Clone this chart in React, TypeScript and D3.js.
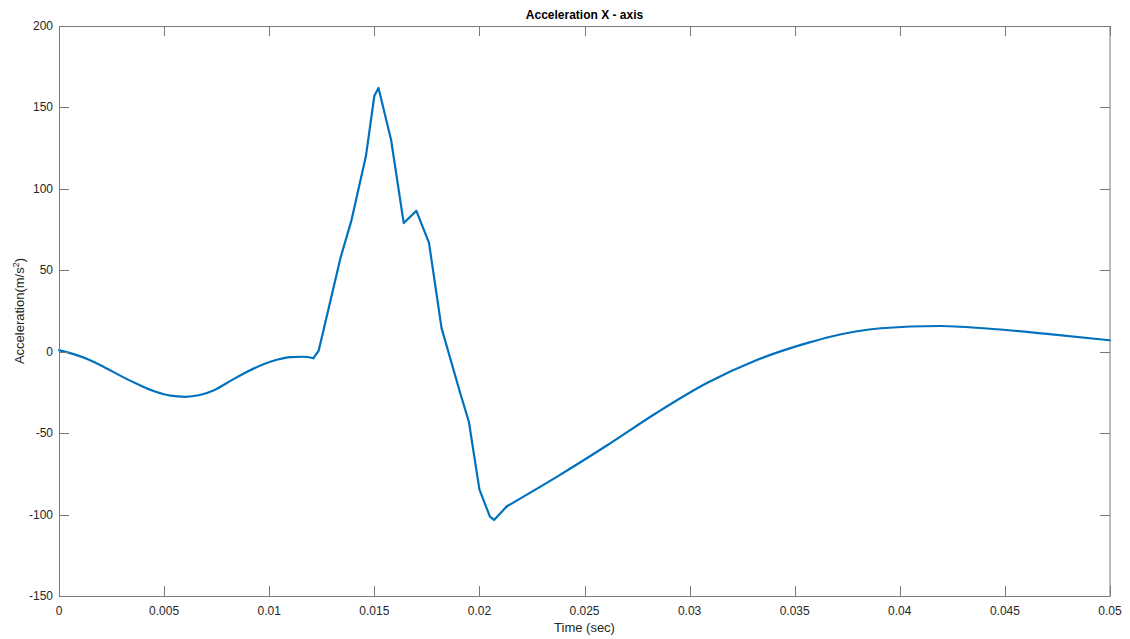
import React from "react";
import * as d3 from "d3";

// Sampled acceleration along the X axis
const timeSec = [
  0, 0.0007, 0.0014, 0.0022, 0.003, 0.0038, 0.0046, 0.0053, 0.006, 0.0067,
  0.0074, 0.0082, 0.009, 0.0097, 0.0104, 0.011, 0.0116, 0.0121, 0.01235,
  0.0134, 0.0139, 0.0146, 0.015, 0.0152, 0.0158, 0.0164, 0.017, 0.0176,
  0.0182, 0.0191, 0.0195, 0.02, 0.0205, 0.0207, 0.0213, 0.0237, 0.0261,
  0.0284, 0.0308, 0.0332, 0.0357, 0.0367,
  0.0391, 0.0419, 0.0446, 0.047, 0.05,
];
const accelX = [
  1, -1.5, -4.8, -9.8, -15.3, -20.3, -24.6, -27.0, -27.7, -26.6,
  -23.5, -17.6, -12, -7.9, -4.8, -3.3, -3.1, -4.0, 0.5,
  58, 80, 120, 157, 162, 130, 79, 86.5, 67,
  14.5, -26, -43, -84.5, -101.3, -103.3, -95, -76.7, -57.3,
  -37.8, -19.4, -5.1, 5.7, 9.2,
  14.4, 15.8, 13.8, 10.9, 7.0,
];

// index ranges: smooth pre-impulse, sharp impulse, smooth recovery
const impulseStart = 17;
const impulseEnd = 34;

const xTicks = [0, 0.005, 0.01, 0.015, 0.02, 0.025, 0.03, 0.035, 0.04, 0.045, 0.05];
const yTicks = [-150, -100, -50, 0, 50, 100, 150, 200];

const W = 1130;
const H = 639;
const plot = { left: 59, right: 1110, top: 26, bottom: 596 };
const tickLen = 10;
const font = "'Liberation Sans', Arial, Helvetica, sans-serif";
const axisColor = "#7a7a7a";
const textColor = "#262626";

export default function App() {
  const x = d3.scaleLinear().domain([0, 0.05]).range([plot.left, plot.right]);
  const y = d3.scaleLinear().domain([-150, 200]).range([plot.bottom, plot.top]);

  const points: [number, number][] = timeSec.map((t, i) => [t, accelX[i]]);
  const smooth = d3
    .line<[number, number]>()
    .x((d) => x(d[0]))
    .y((d) => y(d[1]))
    .curve(d3.curveMonotoneX);
  const sharp = d3
    .line<[number, number]>()
    .x((d) => x(d[0]))
    .y((d) => y(d[1]))
    .curve(d3.curveLinear);

  const segments = [
    smooth(points.slice(0, impulseStart + 1)),
    sharp(points.slice(impulseStart, impulseEnd + 1)),
    smooth(points.slice(impulseEnd)),
  ];

  const fmtX = (v: number) => (v === 0 ? "0" : String(+v.toFixed(3)));

  return (
    <svg
      width={W}
      height={H}
      style={{ position: "absolute", left: 0, top: 0, background: "#fff" }}
    >
      <rect x={0} y={0} width={W} height={H} fill="#fff" />

      {/* curve */}
      {segments.map((d, i) => (
        <path
          key={i}
          d={d || ""}
          fill="none"
          stroke="#0072BD"
          strokeWidth={2.2}
          strokeLinejoin="round"
          strokeLinecap="round"
        />
      ))}

      {/* box */}
      <rect
        x={plot.left + 0.5}
        y={plot.top + 0.5}
        width={plot.right - plot.left - 0.5}
        height={plot.bottom - plot.top}
        fill="none"
        stroke={axisColor}
        strokeWidth={1}
      />

      {/* x ticks (bottom and top) */}
      {xTicks.map((t) => {
        const px = Math.round(x(t)) + 0.5;
        return (
          <g key={"x" + t}>
            <line x1={px} x2={px} y1={plot.bottom} y2={plot.bottom - tickLen} stroke={axisColor} />
            <line x1={px} x2={px} y1={plot.top} y2={plot.top + tickLen} stroke={axisColor} />
            <text
              x={x(t)}
              y={615}
              textAnchor="middle"
              fontFamily={font}
              fontSize={12}
              fill={textColor}
            >
              {fmtX(t)}
            </text>
          </g>
        );
      })}

      {/* y ticks (left and right) */}
      {yTicks.map((v) => {
        const py = Math.round(y(v)) + 0.5;
        return (
          <g key={"y" + v}>
            <line x1={plot.left} x2={plot.left + tickLen} y1={py} y2={py} stroke={axisColor} />
            <line x1={plot.right} x2={plot.right - tickLen} y1={py} y2={py} stroke={axisColor} />
            <text
              x={53}
              y={y(v) + 4}
              textAnchor="end"
              fontFamily={font}
              fontSize={12}
              fill={textColor}
            >
              {v}
            </text>
          </g>
        );
      })}

      {/* title */}
      <text
        x={(plot.left + plot.right) / 2}
        y={18.5}
        textAnchor="middle"
        fontFamily={font}
        fontSize={12}
        fontWeight="bold"
        fill="#000"
      >
        Acceleration X - axis
      </text>

      {/* x label */}
      <text
        x={(plot.left + plot.right) / 2}
        y={632}
        textAnchor="middle"
        fontFamily={font}
        fontSize={13}
        fill={textColor}
      >
        Time (sec)
      </text>

      {/* y label */}
      <text
        transform={`translate(24, ${(plot.top + plot.bottom) / 2}) rotate(-90)`}
        textAnchor="middle"
        fontFamily={font}
        fontSize={13}
        fill={textColor}
      >
        Acceleration(m/s
        <tspan fontSize={9} dy={-5}>2</tspan>
        <tspan dy={5}>)</tspan>
      </text>
    </svg>
  );
}
